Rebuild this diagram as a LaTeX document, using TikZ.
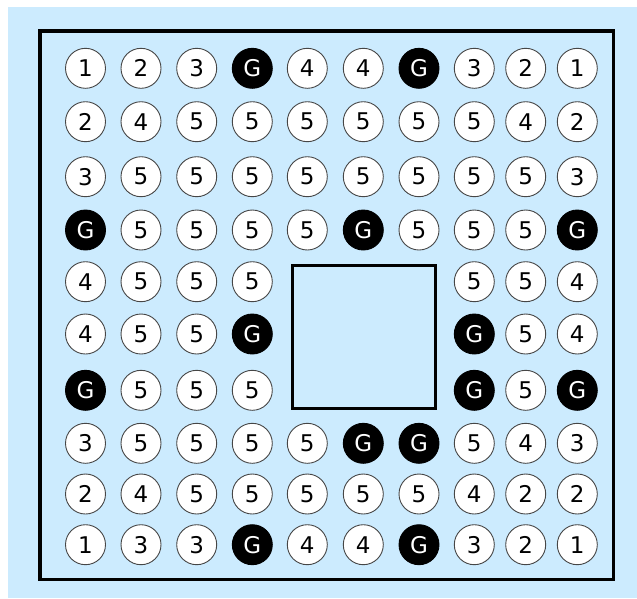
\documentclass[tikz,border=0pt]{standalone}
\usepackage{fontspec}
\setmainfont{DejaVu Sans}
\definecolor{bgblue}{RGB}{204,235,254}
\definecolor{rimgray}{RGB}{70,70,70}

\begin{document}
\begin{tikzpicture}[x=1pt, y=-1pt, line join=miter,
    hole/.style={circle, draw=rimgray, line width=0.9pt, fill=white, minimum size=40pt, inner sep=0pt, font=\fontsize{23}{23}\selectfont},
    gnd/.style={hole, draw=black, fill=black, text=white}]
    \useasboundingbox (0,0) rectangle (637,598);

    % Hintergrund
    \fill[bgblue] (8,7) rectangle (637,598);

    % Rahmen und Aussparung in der Mitte
    \draw[line width=3.5pt] (40,31) rectangle (613.5,579.5);
    \draw[line width=3pt] (292,265) rectangle (435.5,408);

    % Raster: G = Masse, - = frei
    \foreach \ry/\r/\row in {
        68.3/1/{1,2,3,G,4,4,G,3,2,1},
        121.7/2/{2,4,5,5,5,5,5,5,4,2},
        176.7/3/{3,5,5,5,5,5,5,5,5,3},
        230/4/{G,5,5,5,5,G,5,5,5,G},
        281.7/5/{4,5,5,5,-,-,-,5,5,4},
        334/6/{4,5,5,G,-,-,-,G,5,4},
        390.3/7/{G,5,5,5,-,-,-,G,5,G},
        443.3/8/{3,5,5,5,5,G,G,5,4,3},
        494/9/{2,4,5,5,5,5,5,4,2,2},
        544.7/10/{1,3,3,G,4,4,G,3,2,1}}{
      \foreach \v [count=\c] in \row {
        \pgfmathsetmacro\px{{85.5,141,196.7,252.3,307.3,363.3,419,474.3,525.7,577.3}[\c-1]}
        \if\v G
          \node[gnd] (p-\r-\c) at (\px,\ry) {G};
        \else\if\v -
        \else
          \node[hole] (p-\r-\c) at (\px,\ry) {\v};
        \fi\fi
      }
    }
\end{tikzpicture}
\end{document}
